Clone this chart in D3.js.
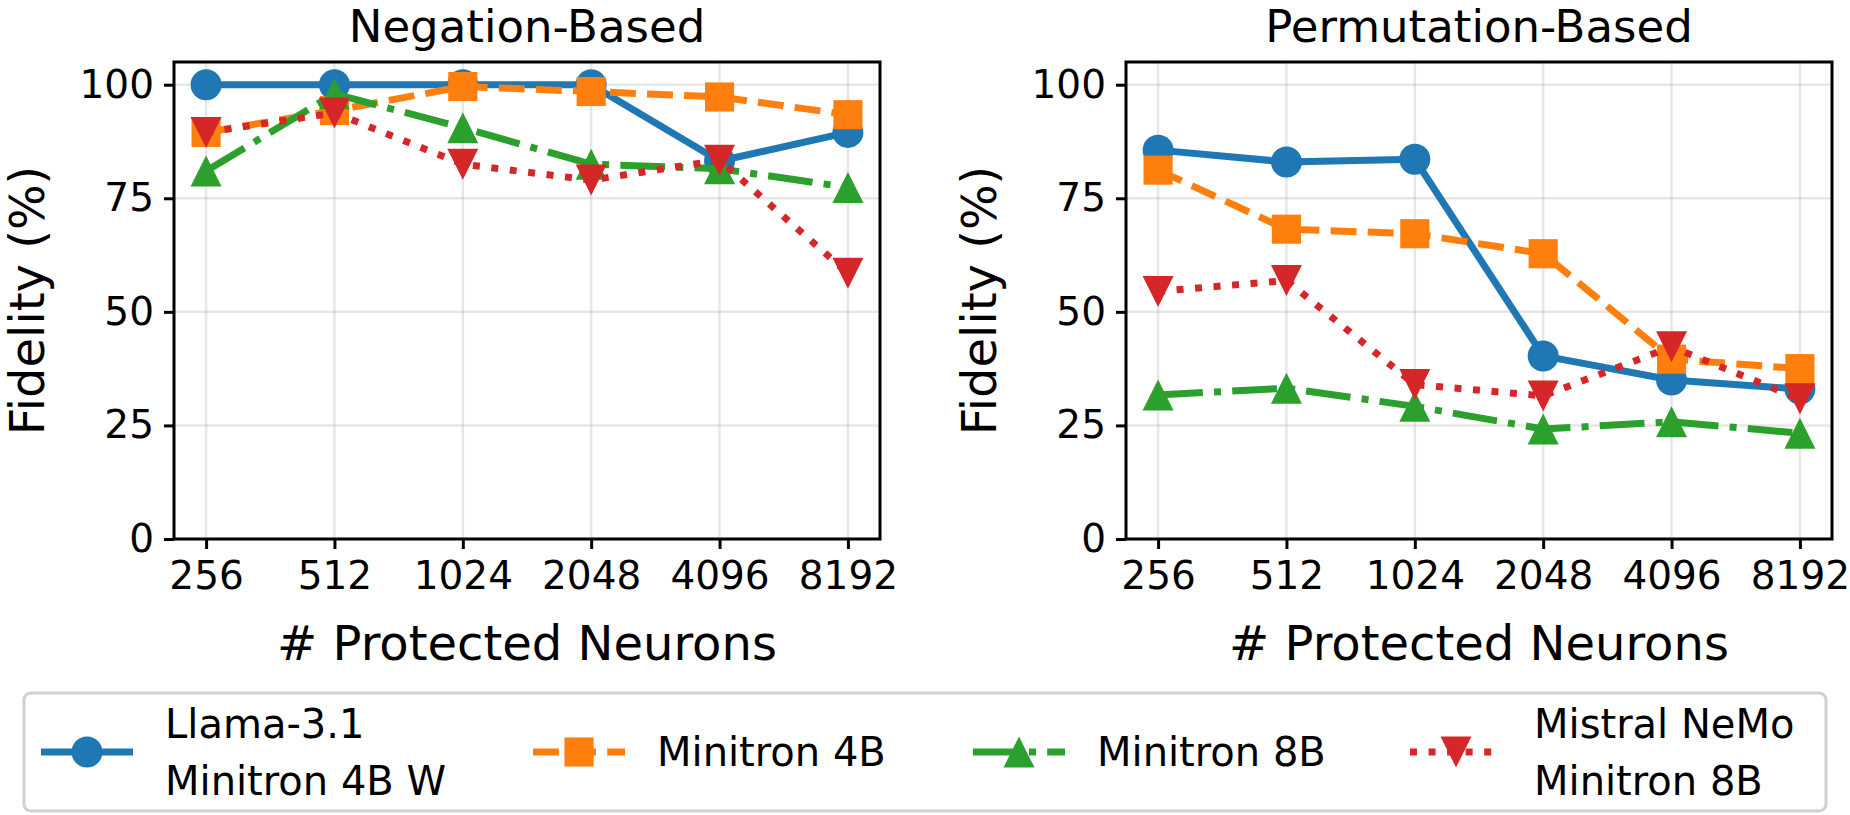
<!DOCTYPE html>
<html>
<head>
<meta charset="utf-8">
<script src="https://cdn.jsdelivr.net/npm/d3@7"></script>
<style>
  body { margin: 0; background: #fff; }
  svg text { font-family: "DejaVu Sans", sans-serif; fill: #000; }
</style>
</head>
<body>
<div id="chart"></div>
<script>
// Data
const neuronCounts = ["256", "512", "1024", "2048", "4096", "8192"];
const modelNames = [["Llama-3.1", "Minitron 4B W"], ["Minitron 4B"], ["Minitron 8B"], ["Mistral NeMo", "Minitron 8B"]];
const yTicks = [0, 25, 50, 75, 100];

// Negation-Based fidelity (%)
const negLlama = [100, 100, 100, 100, 83.2, 89.5];
const negMinitron4B = [89.5, 94.3, 99.6, 98.5, 97.3, 93.4];
const negMinitron8B = [81.0, 98.0, 90.5, 82.5, 81.5, 77.4];
const negMistral = [89.5, 93.8, 82.5, 79.0, 83.4, 58.5];

// Permutation-Based fidelity (%)
const permLlama = [85.6, 83.0, 83.6, 40.3, 35.0, 33.0];
const permMinitron4B = [81.2, 68.2, 67.2, 62.8, 39.6, 37.5];
const permMinitron8B = [31.7, 33.2, 29.2, 24.2, 25.8, 23.3];
const permMistral = [54.5, 56.9, 34.0, 31.5, 42.3, 30.8];

const colors = ["#1f77b4", "#ff7f0e", "#2ca02c", "#d62728"];
const lw = 7;
const dashes = [null, [3.7 * lw, 1.6 * lw], [6.4 * lw, 1.6 * lw, 1 * lw, 1.6 * lw], [1 * lw, 1.65 * lw]];
const markerKinds = ["circle", "square", "triUp", "triDown"];
const ms = 31;

const width = 1850, height = 815;
const svg = d3.select("#chart").append("svg")
    .attr("width", width)
    .attr("height", height);

// marker path, centred on 0,0
function markerPath(kind) {
    const h = ms / 2;
    if (kind === "circle") return d3.symbol(d3.symbolCircle, Math.PI * h * h)();
    if (kind === "square") { const s = ms * 0.47; return `M${-s},${-s}H${s}V${s}H${-s}Z`; }
    if (kind === "triUp") return `M0,${-h}L${h},${h}L${-h},${h}Z`;
    return `M0,${h}L${h},${-h}L${-h},${-h}Z`;
}

function drawPanel(left, right, title, series) {
    const top = 62, bottom = 539;
    const x = d3.scaleLinear().domain([-0.25, neuronCounts.length - 0.75]).range([left, right]);
    const y = d3.scaleLinear().domain([0, 105]).range([bottom, top]);
    const g = svg.append("g");

    // grid
    g.append("g").selectAll("line").data(yTicks).join("line")
        .attr("x1", left).attr("x2", right)
        .attr("y1", d => y(d)).attr("y2", d => y(d))
        .attr("stroke", "#b0b0b0").attr("stroke-opacity", 0.3).attr("stroke-width", 2.5);
    g.append("g").selectAll("line").data(neuronCounts).join("line")
        .attr("x1", (d, i) => x(i)).attr("x2", (d, i) => x(i))
        .attr("y1", top).attr("y2", bottom)
        .attr("stroke", "#b0b0b0").attr("stroke-opacity", 0.3).attr("stroke-width", 2.5);

    // axes
    const xAxis = g.append("g")
        .attr("transform", `translate(0,${bottom})`)
        .call(d3.axisBottom(x).tickValues(d3.range(neuronCounts.length))
            .tickFormat(i => neuronCounts[i]).tickSize(10).tickPadding(12));
    const yAxis = g.append("g")
        .attr("transform", `translate(${left},0)`)
        .call(d3.axisLeft(y).tickValues(yTicks).tickSize(10).tickPadding(10));
    [xAxis, yAxis].forEach(a => {
        a.select(".domain").remove();
        a.selectAll(".tick line").attr("stroke", "#000").attr("stroke-width", 3);
        a.selectAll(".tick text").attr("font-size", 39).attr("fill", "#000")
            .style("font-family", "DejaVu Sans");
    });

    // series
    const line = d3.line().x((d, i) => x(i)).y(d => y(d));
    series.forEach((vals, k) => {
        const sg = g.append("g");
        sg.append("path")
            .attr("d", line(vals))
            .attr("fill", "none")
            .attr("stroke", colors[k])
            .attr("stroke-width", lw)
            .attr("stroke-linejoin", "round")
            .attr("stroke-dasharray", dashes[k] ? dashes[k].join(",") : null);
        sg.selectAll("path.m").data(vals).join("path")
            .attr("class", "m")
            .attr("d", markerPath(markerKinds[k]))
            .attr("transform", (d, i) => `translate(${x(i)},${y(d)})`)
            .attr("fill", colors[k]);
    });

    // spines
    g.append("rect")
        .attr("x", left).attr("y", top)
        .attr("width", right - left).attr("height", bottom - top)
        .attr("fill", "none").attr("stroke", "#000").attr("stroke-width", 3);

    // titles
    const cx = (left + right) / 2;
    g.append("text").attr("x", cx).attr("y", 42)
        .attr("text-anchor", "middle").attr("font-size", 45).text(title);
    g.append("text").attr("x", cx).attr("y", 660)
        .attr("text-anchor", "middle").attr("font-size", 48).text("# Protected Neurons");
    g.append("text")
        .attr("transform", `translate(${left - 130},${(top + bottom) / 2}) rotate(-90)`)
        .attr("text-anchor", "middle").attr("font-size", 48).text("Fidelity (%)");
}

drawPanel(174, 880, "Negation-Based", [negLlama, negMinitron4B, negMinitron8B, negMistral]);
drawPanel(1126, 1832, "Permutation-Based", [permLlama, permMinitron4B, permMinitron8B, permMistral]);

// legend
const legend = svg.append("g");
legend.append("rect")
    .attr("x", 24).attr("y", 693).attr("width", 1802).attr("height", 118)
    .attr("rx", 7)
    .attr("fill", "#fff").attr("stroke", "#d0d0d0").attr("stroke-width", 3);
const legendX = [41, 533, 973, 1410];
const handleLen = 92;
const ly = 752;
modelNames.forEach((name, k) => {
    const lg = legend.append("g");
    const x0 = legendX[k];
    lg.append("line")
        .attr("x1", x0).attr("x2", x0 + handleLen)
        .attr("y1", ly).attr("y2", ly)
        .attr("stroke", colors[k]).attr("stroke-width", lw)
        .attr("stroke-dasharray", dashes[k] ? dashes[k].join(",") : null);
    lg.append("path")
        .attr("d", markerPath(markerKinds[k]))
        .attr("transform", `translate(${x0 + handleLen / 2},${ly})`)
        .attr("fill", colors[k]);
    const t = lg.append("text")
        .attr("x", x0 + 124)
        .attr("font-size", 40);
    const lineH = 57;
    name.forEach((s, j) => {
        t.append("tspan")
            .attr("x", x0 + 124)
            .attr("y", ly + 14 + (j - (name.length - 1) / 2) * lineH)
            .text(s);
    });
});
</script>
</body>
</html>
